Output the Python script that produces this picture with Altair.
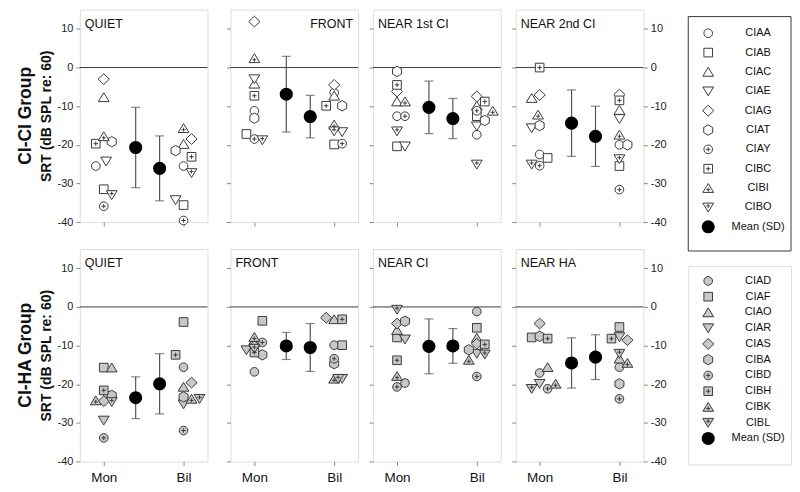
import altair as alt
import pandas as pd

# ------------------------------------------------------------------ data
x_cats = ["Mon", "Bil"]
y_ticks = [10, 0, -10, -20, -30, -40]

cici_ids = ["CIAA", "CIAB", "CIAC", "CIAE", "CIAG", "CIAT", "CIAY", "CIBC", "CIBI", "CIBO"]
ciha_ids = ["CIAD", "CIAF", "CIAO", "CIAR", "CIAS", "CIBA", "CIBD", "CIBH", "CIBK", "CIBL"]
cici_conditions = ["QUIET", "FRONT", "NEAR 1st CI", "NEAR 2nd CI"]
ciha_conditions = ["QUIET", "FRONT", "NEAR CI", "NEAR HA"]
group_names = ["CI-CI Group", "CI-HA Group"]
y_title = "SRT (dB SPL  re: 60)"
mean_label = "Mean (SD)"

# CI-CI group SRTs (dB SPL re: 60), in cici_ids order
cici_quiet_mon = [-25.5, -31.5, -7.7, -24.3, -3.0, -19.2, -35.9, -19.7, -17.8, -33.0]
cici_quiet_bil = [-25.5, -35.6, -19.8, -34.3, -18.5, -21.5, -39.6, -23.1, -15.7, -27.3]
cici_front_mon = [-11.2, -17.2, -4.2, -3.0, 11.9, -13.1, -18.5, -7.3, 2.4, -18.8]
cici_front_bil = [-6.5, -19.9, -7.3, -16.7, -4.5, -9.9, -19.7, -9.9, -14.8, -16.5]
cici_near1_mon = [-12.6, -20.4, -8.8, -20.4, -6.2, -1.0, -12.6, -4.5, -8.8, -16.5]
cici_near1_bil = [-17.4, -12.6, -9.9, -15.2, -7.5, -13.7, -11.2, -8.8, -11.2, -25.1]
cici_near2_mon = [-22.5, -23.4, -7.9, -15.7, -7.1, -15.0, -25.4, 0.0, -12.2, -25.1]
cici_near2_bil = [-20.0, -25.5, -11.0, -13.3, -7.0, -20.0, -31.6, -8.5, -17.4, -23.7]

# horizontal jitter of each symbol (x units)
cici_quiet_mon_dx = [-0.1, 0, 0, 0.03, 0, 0.1, 0, -0.1, 0, 0.1]
cici_quiet_bil_dx = [0, 0, 0, -0.1, 0.1, -0.1, 0, 0.1, 0, 0.1]
cici_front_mon_dx = [0, -0.1, 0, 0, 0, 0, 0, 0, 0, 0.1]
cici_front_bil_dx = [0, 0, 0, 0.1, 0, 0.1, 0.1, -0.1, 0, 0]
cici_near1_mon_dx = [0, 0, 0, 0.1, 0, 0, 0.1, 0, 0.1, 0]
cici_near1_bil_dx = [0, 0, 0, 0, 0, 0.1, 0, 0.1, 0.2, 0]
cici_near2_mon_dx = [0, 0.1, -0.1, -0.1, 0, 0, 0, 0, -0.02, -0.1]
cici_near2_bil_dx = [0, 0, 0, 0, 0, 0.1, 0, 0, 0, 0]

cici_mean_mon = [-20.7, -6.9, -10.3, -14.4]
cici_sd_mon = [10.4, 9.8, 6.8, 8.6]
cici_mean_bil = [-26.1, -12.7, -13.2, -17.8]
cici_sd_bil = [8.4, 5.5, 5.2, 7.8]

# CI-HA group SRTs, in ciha_ids order
ciha_quiet_mon = [-23.0, -15.7, -15.7, -29.4, -24.4, -22.9, -33.9, -21.6, -24.2, -24.6]
ciha_quiet_bil = [-15.6, -3.9, -20.7, -25.2, -19.6, -23.3, -32.0, -12.4, -23.8, -23.8]
ciha_front_mon = [-16.8, -3.6, -8.6, -11.2, -10.1, -12.4, -9.2, -11.8, -7.8, -10.8]
ciha_front_bil = [-9.9, -9.9, -3.2, -18.6, -2.8, -14.7, -13.4, -3.2, -18.6, -18.6]
ciha_nearci_mon = [-19.7, -7.9, -6.0, -8.4, -4.3, -3.7, -20.7, -13.8, -17.9, -0.7]
ciha_nearci_bil = [-1.2, -5.4, -8.0, -12.1, -9.5, -11.1, -18.0, -9.7, -13.7, -12.3]
ciha_nearha_mon = [-17.1, -7.9, -15.6, -19.9, -4.3, -7.6, -21.2, -8.2, -19.9, -21.2]
ciha_nearha_bil = [-15.6, -5.2, -13.4, -7.8, -8.6, -19.9, -23.8, -8.2, -14.5, -12.1]

ciha_quiet_mon_dx = [0.05, 0, 0.1, 0, 0, 0.1, 0, 0, -0.1, 0.1]
ciha_quiet_bil_dx = [0, 0, 0, 0, 0.1, 0, 0, -0.1, 0.1, 0.2]
ciha_front_mon_dx = [0, 0.1, 0, -0.1, 0, 0.1, 0.1, 0, 0, 0]
ciha_front_bil_dx = [0, 0.1, 0, 0.1, -0.1, 0, 0, 0.1, 0, 0.05]
ciha_nearci_mon_dx = [0.1, 0, 0, 0.1, 0, 0.1, 0, 0, 0, 0]
ciha_nearci_bil_dx = [0, 0, 0, 0, 0, -0.1, 0, 0.1, -0.1, 0.1]
ciha_nearha_mon_dx = [0, -0.1, 0.1, 0, 0, 0, 0.1, 0.1, 0.2, -0.1]
ciha_nearha_bil_dx = [0, 0, 0, 0, 0.1, 0, 0, -0.1, 0.1, 0]

ciha_mean_mon = [-23.5, -10.1, -10.2, -14.5]
ciha_sd_mon = [5.4, 3.5, 7.1, 6.5]
ciha_mean_bil = [-19.9, -10.5, -10.1, -13.0]
ciha_sd_bil = [7.8, 6.2, 4.5, 5.8]

# x positions of the categories and of the mean markers
cat_pos = [1.0, 2.0]
mean_pos = [1.4, 1.7]

# ------------------------------------------------------------------ styles
FONT = "Liberation Sans"
STROKE = "#3a3a3a"
ERR = "#555555"
FILLS = ["white", "#c8c8c8"]
SIZE = 75
MEAN_SIZE = 125

HEX = "M0,-1.2L1.04,-0.6L1.04,0.6L0,1.2L-1.04,0.6L-1.04,-0.6Z"
SQ = "M-1,-1H1V1H-1Z"
TU = "M0,-1.05L1.25,1L-1.25,1Z"
TD = "M0,1.05L1.25,-1L-1.25,-1Z"
DM = "M0,-1.25L1.3,0L0,1.25L-1.3,0Z"
PLUS_C = "M-0.5,0H0.5M0,-0.5V0.5"
PLUS_TU = "M-0.45,0.35H0.45M0,-0.1V0.8"
PLUS_TD = "M-0.45,-0.35H0.45M0,-0.8V0.1"
MARKERS = ["circle", SQ, TU, TD, DM, HEX, "circle", SQ, TU, TD]
PLUSES = ["", "", "", "", "", "", PLUS_C, PLUS_C, PLUS_TU, PLUS_TD]

W, H = 128, 213
XS = alt.Scale(domain=[0.7, 2.3], nice=False, zero=False)
YS = alt.Scale(domain=[-40, 15], nice=False, zero=False)
XLBL = f"datum.value == {cat_pos[0]} ? '{x_cats[0]}' : '{x_cats[1]}'"
YLBL = "datum.value < 0 ? '-' + abs(datum.value) : '' + datum.value"


def points_frame(ids, conds, series):
    rows = []
    for cond, (mv, mdx, bv, bdx) in zip(conds, series):
        for ci, (vals, dxs) in enumerate([(mv, mdx), (bv, bdx)]):
            for i, pid in enumerate(ids):
                rows.append(dict(cond=cond, pid=pid, cat=x_cats[ci],
                                 x=cat_pos[ci] + dxs[i], srt=vals[i],
                                 shape=MARKERS[i], plus=PLUSES[i]))
    return pd.DataFrame(rows)


def means_frame(conds, mm, sm, mb, sb):
    rows = []
    for k, cond in enumerate(conds):
        for ci, (m, s) in enumerate([(mm[k], sm[k]), (mb[k], sb[k])]):
            rows.append(dict(cond=cond, cat=x_cats[ci], x=mean_pos[ci],
                             mean=m, lo=m - s, hi=m + s))
    return pd.DataFrame(rows)


cici_pts = points_frame(cici_ids, cici_conditions, [
    (cici_quiet_mon, cici_quiet_mon_dx, cici_quiet_bil, cici_quiet_bil_dx),
    (cici_front_mon, cici_front_mon_dx, cici_front_bil, cici_front_bil_dx),
    (cici_near1_mon, cici_near1_mon_dx, cici_near1_bil, cici_near1_bil_dx),
    (cici_near2_mon, cici_near2_mon_dx, cici_near2_bil, cici_near2_bil_dx),
])
ciha_pts = points_frame(ciha_ids, ciha_conditions, [
    (ciha_quiet_mon, ciha_quiet_mon_dx, ciha_quiet_bil, ciha_quiet_bil_dx),
    (ciha_front_mon, ciha_front_mon_dx, ciha_front_bil, ciha_front_bil_dx),
    (ciha_nearci_mon, ciha_nearci_mon_dx, ciha_nearci_bil, ciha_nearci_bil_dx),
    (ciha_nearha_mon, ciha_nearha_mon_dx, ciha_nearha_bil, ciha_nearha_bil_dx),
])
cici_means = means_frame(cici_conditions, cici_mean_mon, cici_sd_mon, cici_mean_bil, cici_sd_bil)
ciha_means = means_frame(ciha_conditions, ciha_mean_mon, ciha_sd_mon, ciha_mean_bil, ciha_sd_bil)


def panel(pts, means, label, fill, pos, bottom, group, label_right=False):
    x_axis = alt.Axis(values=cat_pos, labelExpr=XLBL, labels=bottom, ticks=True,
                      tickSize=4, domain=False, grid=False, title=None,
                      labelFontSize=13.5, labelPadding=5, labelColor="#111")
    left_axis = alt.Axis(values=y_ticks, orient="left", labels=(pos == 0),
                         labelExpr=YLBL, tickSize=4, domain=False, grid=False,
                         labelFontSize=11, labelPadding=3, labelColor="#222",
                         title=(y_title if pos == 0 else None),
                         titleFontSize=14, titleFontWeight="bold",
                         titlePadding=3, titleColor="#111")
    right_axis = alt.Axis(values=y_ticks, orient="right", labelExpr=YLBL,
                          tickSize=4, domain=False, grid=False, labelFontSize=11,
                          labelPadding=3, labelColor="#222", title=None)
    last = pos == 3
    other_axis = None if last else left_axis

    def X(f="x"):
        return alt.X(f"{f}:Q", scale=XS, axis=x_axis)

    def Y(f, ax):
        return alt.Y(f"{f}:Q", scale=YS, axis=ax)

    zero = alt.Chart(pd.DataFrame({"z": [0]})).mark_rule(
        color=STROKE, strokeWidth=1).encode(y=Y("z", left_axis))
    bars = alt.Chart(means).mark_rule(color=ERR, strokeWidth=1.2).encode(
        x=X(), y=Y("lo", other_axis), y2="hi:Q")
    cap_lo = alt.Chart(means).mark_tick(orient="horizontal", size=9, thickness=1.2,
                                        color=ERR).encode(x=X(), y=Y("lo", other_axis))
    cap_hi = alt.Chart(means).mark_tick(orient="horizontal", size=9, thickness=1.2,
                                        color=ERR).encode(x=X(), y=Y("hi", other_axis))
    mean_pts = alt.Chart(means).mark_point(
        shape="circle", filled=True, fill="black", stroke="black", opacity=1,
        size=MEAN_SIZE).encode(x=X(), y=Y("mean", other_axis))
    sym = alt.Chart(pts).mark_point(
        filled=True, fill=fill, stroke=STROKE, strokeWidth=1, opacity=1,
        fillOpacity=1, size=SIZE).encode(
        x=X(), y=Y("srt", right_axis if last else left_axis),
        shape=alt.Shape("shape:N", scale=None))
    plus = alt.Chart(pts[pts["plus"] != ""]).mark_point(
        filled=False, stroke=STROKE, strokeWidth=1, opacity=1, size=SIZE).encode(
        x=X(), y=Y("srt", other_axis), shape=alt.Shape("plus:N", scale=None))
    txt = alt.Chart(pd.DataFrame({"t": [label]})).mark_text(
        align=("right" if label_right else "left"), baseline="top",
        fontSize=12.5, font=FONT, color="#111").encode(
        x=alt.value(W - 5 if label_right else 5), y=alt.value(8), text="t:N")

    ch = alt.layer(zero, bars, cap_lo, cap_hi, mean_pts, sym, plus, txt)
    if last:
        ch = ch.resolve_axis(y="independent")
    props = dict(width=W, height=H)
    if pos == 0:
        props["title"] = alt.TitleParams(text=group, orient="left", anchor="middle",
                                         fontSize=17.5, fontWeight="bold", font=FONT,
                                         color="#111", offset=6)
    return ch.properties(**props)


def row(pts, means, conds, fill, bottom, group, right_first_label):
    ps = []
    for k, cond in enumerate(conds):
        p = pts[pts["cond"] == cond]
        m = means[means["cond"] == cond]
        ps.append(panel(p, m, cond, fill, k, bottom, group,
                        label_right=(right_first_label and k == 1)))
    return alt.hconcat(ps[0], alt.hconcat(ps[1], ps[2], ps[3], spacing=9), spacing=17)


def legend(ids, fill, height, dom, boxed_top=None):
    n = len(ids)
    df = pd.DataFrame({"idx": list(range(n + 1)),
                       "label": ids + [mean_label],
                       "shape": MARKERS + ["circle"],
                       "plus": PLUSES + [""]})
    y = alt.Y("idx:Q", scale=alt.Scale(domain=dom, reverse=True, nice=False, zero=False),
              axis=None)
    sym = alt.Chart(df[df["idx"] < n]).mark_point(
        filled=True, fill=fill, stroke=STROKE, strokeWidth=1, opacity=1, size=SIZE
    ).encode(x=alt.value(20), y=y, shape=alt.Shape("shape:N", scale=None))
    plus = alt.Chart(df[df["plus"] != ""]).mark_point(
        filled=False, stroke=STROKE, strokeWidth=1, opacity=1, size=SIZE
    ).encode(x=alt.value(20), y=y, shape=alt.Shape("plus:N", scale=None))
    mean = alt.Chart(df[df["idx"] == n]).mark_point(
        shape="circle", filled=True, fill="black", stroke="black", opacity=1,
        size=MEAN_SIZE).encode(x=alt.value(20), y=y)
    txt = alt.Chart(df).mark_text(align="center", baseline="middle", fontSize=11,
                                  font=FONT, color="#111").encode(
        x=alt.value(70), y=y, text="label:N")
    layers = [sym, plus, mean, txt]
    props = dict(width=103, height=height)
    if boxed_top is not None:
        box = alt.Chart(pd.DataFrame({"b": [0]})).mark_rect(
            fillOpacity=0, stroke=STROKE, strokeWidth=1).encode(
            x=alt.value(0), x2=alt.value(103), y=alt.value(boxed_top),
            y2=alt.value(height))
        layers = [box] + layers
        props["view"] = alt.ViewBackground(stroke="transparent")
    return alt.layer(*layers).properties(**props)


row1 = row(cici_pts, cici_means, cici_conditions, FILLS[0], False, group_names[0], True)
row2 = row(ciha_pts, ciha_means, ciha_conditions, FILLS[1], True, group_names[1], False)
left = alt.vconcat(row1, row2, spacing=20)

leg1 = legend(cici_ids, FILLS[0], 242, [-1.22, 11.25], boxed_top=7)
leg2 = legend(ciha_ids, FILLS[1], 199, [-0.95, 11.65])
right = alt.vconcat(leg1, leg2, spacing=13)

chart = alt.hconcat(left, right, spacing=20).configure_view(
    stroke=STROKE, strokeWidth=1
).configure_axis(
    labelFont=FONT, titleFont=FONT, tickColor=STROKE
).configure(font=FONT, padding={"left": 8, "top": 0, "right": 0, "bottom": 0},
            background="white")

chart.save("out.html", embed_options={"renderer": "svg", "actions": False})
